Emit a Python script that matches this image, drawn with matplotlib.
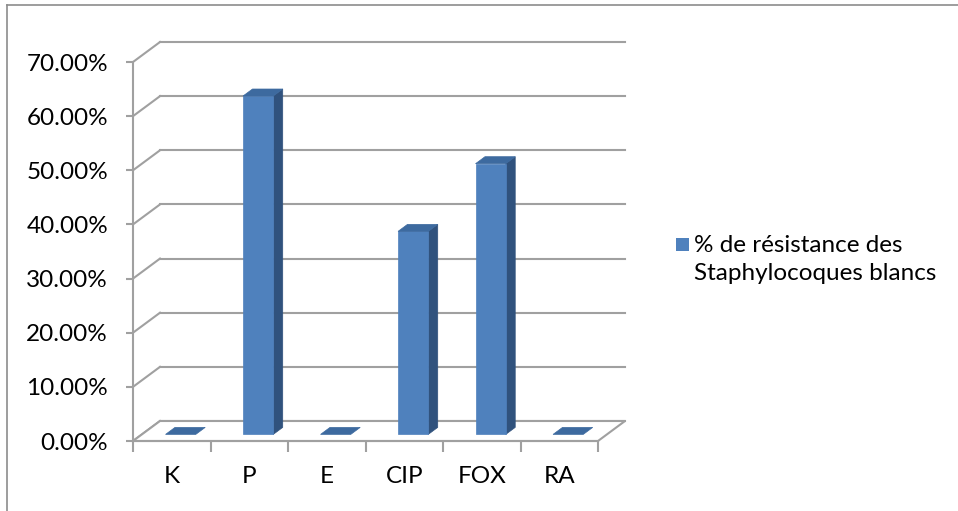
import matplotlib
matplotlib.use("Agg")
import matplotlib.pyplot as plt
from matplotlib.patches import Polygon, Rectangle
from matplotlib.lines import Line2D
from matplotlib.ticker import FuncFormatter, MultipleLocator, FixedLocator

# Data
categories = ["K", "P", "E", "CIP", "FOX", "RA"]
resistance = [0.0, 62.5, 0.0, 37.5, 50.0, 0.0]
series_name = "% de résistance des\nStaphylocoques blancs"
y_ticks = [0, 10, 20, 30, 40, 50, 60, 70]

# Style
FRONT = "#4F81BD"
SIDE = "#30527D"
TOP = "#3D6A9F"
GRID = "#A0A0A0"
FONT = "Lato"
FS = 17.5

W, H = 958, 511
fig = plt.figure(figsize=(W / 100, H / 100), dpi=100)
fig.patch.set_facecolor("white")

# front plane of the 3-D plot area (pixels converted to figure fractions)
left_px, right_px, top_px, bottom_px = 133, 598, 62, 441
ax = fig.add_axes([left_px / W, 1 - bottom_px / H,
                   (right_px - left_px) / W, (bottom_px - top_px) / H])
ax.set_xlim(0, len(categories))
ax.set_ylim(0, 70)
ax.set_facecolor("none")

# depth offset of the back wall, in data units
DX = 27 / ((right_px - left_px) / len(categories))
DY = 20 / ((bottom_px - top_px) / 70)


def proj(x, y, d):
    return (x + d * DX, y + d * DY)


# back wall gridlines and side-wall diagonals
for yv in y_ticks:
    x0, y0 = proj(0, yv, 1)
    x1, y1 = proj(len(categories), yv, 1)
    ax.add_line(Line2D([x0, x1], [y0, y1], color=GRID, lw=1.5,
                       clip_on=False, zorder=1))
    ax.add_line(Line2D([0, x0], [yv, y0], color=GRID, lw=1.5,
                       clip_on=False, zorder=1))

# floor outline
fx = [0, len(categories), proj(len(categories), 0, 1)[0], proj(0, 0, 1)[0]]
fy = [0, 0, DY, DY]
ax.add_patch(Polygon(list(zip(fx, fy)), closed=True, facecolor="white",
                     edgecolor=GRID, lw=1.5, clip_on=False, zorder=1.5))

# 3-D columns
bar_w = 0.39
d0, d1 = 0.33, 0.68
for i, v in enumerate(resistance):
    xl = i + 0.5 - bar_w / 2
    xr = i + 0.5 + bar_w / 2
    # front face
    p = [proj(xl, 0, d0), proj(xr, 0, d0), proj(xr, v, d0), proj(xl, v, d0)]
    # side face
    s = [proj(xr, 0, d0), proj(xr, 0, d1), proj(xr, v, d1), proj(xr, v, d0)]
    # top face
    t = [proj(xl, v, d0), proj(xr, v, d0), proj(xr, v, d1), proj(xl, v, d1)]
    if v > 0:
        ax.add_patch(Polygon(s, closed=True, facecolor=SIDE, edgecolor=SIDE,
                             lw=0.5, clip_on=False, zorder=3))
        ax.add_patch(Polygon(p, closed=True, facecolor=FRONT, edgecolor=FRONT,
                             lw=0.5, clip_on=False, zorder=4))
    ax.add_patch(Polygon(t, closed=True, facecolor=TOP, edgecolor=TOP,
                         lw=0.5, clip_on=False, zorder=5))

# axes: only the front vertical axis and the front floor edge
for name in ["top", "right"]:
    ax.spines[name].set_visible(False)
for name in ["left", "bottom"]:
    ax.spines[name].set_color(GRID)
    ax.spines[name].set_linewidth(1.5)
    ax.spines[name].set_zorder(2)

ax.yaxis.set_major_locator(FixedLocator(y_ticks))
ax.yaxis.set_major_formatter(FuncFormatter(lambda v, _: f"{v:.2f}%"))
ax.tick_params(axis="y", which="major", length=5, width=1.5, color=GRID,
               pad=13, labelsize=FS, labelcolor="black")

ax.xaxis.set_major_locator(MultipleLocator(1))
ax.xaxis.set_major_formatter(FuncFormatter(lambda v, _: ""))
ax.xaxis.set_minor_locator(FixedLocator([i + 0.5 for i in range(len(categories))]))
ax.xaxis.set_minor_formatter(FuncFormatter(
    lambda v, _: categories[int(v)] if 0 <= int(v) < len(categories) else ""))
ax.tick_params(axis="x", which="major", length=8, width=1.5, color=GRID)
ax.tick_params(axis="x", which="minor", length=0, pad=18, labelsize=FS,
               labelcolor="black")

for lab in ax.get_yticklabels() + ax.get_xticklabels(minor=True):
    lab.set_fontfamily(FONT)

# legend entry
fig.patches.append(Rectangle((676 / W, 1 - 251 / H), 13 / W, 13 / H,
                             transform=fig.transFigure, facecolor=FRONT,
                             edgecolor="none"))
for k, line in enumerate(series_name.split("\n")):
    fig.text(694 / W, 1 - (252 + 28 * k) / H, line, fontsize=FS,
             family=FONT, va="baseline", ha="left", color="black")

# chart frame edges
fig.add_artist(Line2D([7 / W, 1], [1 - 5 / H, 1 - 5 / H], color="#8C8C8C",
                      lw=1.2, transform=fig.transFigure))
fig.add_artist(Line2D([7 / W, 7 / W], [0, 1 - 5 / H], color="#8C8C8C",
                      lw=1.2, transform=fig.transFigure))

fig.savefig("out.png", dpi=100, facecolor="white")
